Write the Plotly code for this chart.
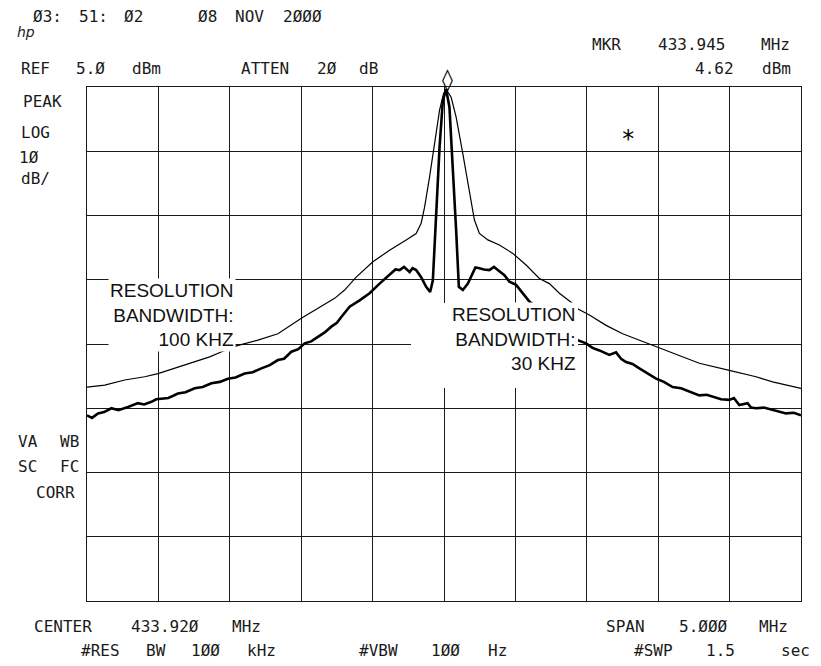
""" HP spectrum analyzer screen: 433.92 MHz carrier at two resolution bandwidths """

import re

import plotly.graph_objects as go

# instrument settings

center_mhz = 433.920
span_mhz = 5.0
ref_dbm = 5.0
db_per_div = 10
mkr_mhz = 433.945
mkr_dbm = 4.62

# thin trace, resolution bandwidth 100 kHz

rbw100_mhz = [431.420, 431.544, 431.684, 431.824, 431.917, 432.034, 432.174, 432.279,
              432.363, 432.466, 432.617, 432.757, 432.921, 433.037, 433.154, 433.224,
              433.305, 433.422, 433.539, 433.655, 433.725, 433.760, 433.784, 433.819,
              433.854, 433.889, 433.917, 433.935, 433.970, 434.005, 434.052, 434.098,
              434.133, 434.168, 434.227, 434.308, 434.402, 434.495, 434.588, 434.658,
              434.728, 434.821, 434.856, 434.938, 435.055, 435.171, 435.288, 435.416,
              435.568, 435.708, 435.918, 436.105, 436.221, 436.315, 436.420]
rbw100_dbm = [-41.7, -41.4, -40.6, -40.1, -39.6, -38.8, -37.8, -37.0,
              -36.2, -35.3, -34.4, -33.4, -31.0, -29.5, -27.9, -26.6,
              -24.6, -22.2, -20.4, -18.8, -17.8, -16.2, -13.7, -9.0,
              -3.8, 1.4, 4.0, 4.62, 3.4, 0.3, -5.4, -11.1,
              -15.7, -17.8, -18.8, -19.6, -20.9, -22.7, -24.8, -25.6,
              -27.1, -28.7, -29.5, -30.5, -32.1, -33.4, -34.4, -35.4,
              -36.7, -38.0, -39.1, -40.1, -40.9, -41.4, -41.9]

# thick trace, resolution bandwidth 30 kHz

rbw30_mhz = [431.420, 431.455, 431.497, 431.540, 431.591, 431.640, 431.707, 431.740,
             431.777, 431.820, 431.871, 431.905, 431.941, 431.990, 432.057, 432.110,
             432.174, 432.230, 432.291, 432.350, 432.407, 432.460, 432.524, 432.580,
             432.641, 432.700, 432.757, 432.800, 432.851, 432.900, 432.944, 432.990,
             433.037, 433.085, 433.131, 433.170, 433.201, 433.259, 433.329, 433.399,
             433.469, 433.539, 433.580, 433.609, 433.640, 433.679, 433.700, 433.725,
             433.760, 433.795, 433.823, 433.842, 433.865, 433.889, 433.912, 433.935,
             433.958, 433.982, 434.005, 434.024, 434.052, 434.087, 434.122, 434.140,
             434.168, 434.200, 434.238, 434.270, 434.297, 434.343, 434.378, 434.425,
             434.450, 434.472, 434.518, 434.623, 434.693, 434.763, 434.856, 434.915,
             434.960, 435.008, 435.078, 435.125, 435.160, 435.195, 435.240, 435.288,
             435.350, 435.405, 435.460, 435.521, 435.580, 435.638, 435.708, 435.760,
             435.801, 435.860, 435.918, 435.950, 435.988, 436.046, 436.070, 436.105,
             436.160, 436.221, 436.270, 436.315, 436.370, 436.420]
rbw30_dbm = [-46.1, -46.5, -45.8, -45.6, -45.0, -45.3, -44.8, -44.5,
             -44.2, -44.4, -44.0, -43.6, -43.5, -43.4, -42.7, -42.5,
             -41.9, -41.7, -41.1, -40.9, -40.4, -40.2, -39.6, -39.4,
             -38.8, -38.3, -37.5, -37.3, -36.2, -35.8, -34.9, -34.6,
             -33.9, -33.2, -32.3, -31.7, -30.8, -29.2, -28.2, -27.1,
             -25.6, -24.3, -23.4, -23.5, -23.0, -23.8, -23.2, -23.5,
             -24.6, -26.1, -26.9, -25.1, -14.7, -4.3, 2.9, 4.62,
             1.9, -7.0, -17.3, -26.1, -26.6, -25.6, -23.8, -23.1,
             -23.2, -23.4, -23.5, -23.0, -23.5, -24.3, -25.3, -25.8,
             -26.5, -27.1, -28.4, -30.2, -31.3, -32.8, -34.4, -34.9,
             -35.6, -36.0, -36.7, -36.3, -37.3, -37.8, -38.1, -38.8,
             -39.6, -40.4, -40.9, -41.7, -41.9, -42.4, -43.0, -42.9,
             -43.2, -43.6, -43.7, -43.4, -44.5, -44.2, -44.9, -45.0,
             -44.9, -45.3, -45.6, -45.8, -45.7, -46.1]

# screen annotations: (text, x px, y px, anchor, char pitch)

screen_text = [
    ("Ø3: 51: Ø2", 30, 16, "left", 11.5),
    ("Ø8 NOV 2ØØØ", 196, 16, "left", 11.8),
    ("MKR 433.945 MHz", 797, 44, "right", 14.1),
    ("REF 5.Ø dBm", 15, 69, "left", 13.8),
    ("ATTEN 2Ø dB", 230, 69, "left", 13.8),
    ("4.62 dBm", 797, 69, "right", 13.8),
    ("PEAK", 15, 101, "left", 13.8),
    ("LOG", 15, 132, "left", 13.8),
    ("1Ø", 15, 157, "left", 13.8),
    ("dB/", 15, 178, "left", 13.8),
    ("VA WB", 83, 441, "right", 13.8),
    ("SC FC", 83, 466, "right", 13.8),
    ("CORR", 83, 492, "right", 13.8),
    ("CENTER 433.92Ø MHz", 22, 626, "left", 13.6),
    ("SPAN 5.ØØØ MHz", 795, 626, "right", 14.1),
    ("#RES BW 1ØØ kHz", 72, 650, "left", 14.0),
    ("#VBW 1ØØ Hz", 348, 650, "left", 15.0),
    ("#SWP 1.5  sec", 818, 650, "right", 15.0),
]

# layout helpers (page body adds an 8 px margin around the figure)

OFF = 8
W, H = 821 - OFF, 666 - OFF
L, T, PW, PH = 87, 87, 714, 514

def px(x):
    """ screen pixel column to paper x """
    return (x - L) / PW

def py(y):
    """ screen pixel row to paper y """
    return 1 - (y - T) / PH

mono = dict(family="DejaVu Sans Mono", size=16, color="#1a1a1a")
label_font = dict(family="Liberation Sans, Arial, sans-serif", size=19, color="#111")

fig = go.Figure()

fig.add_trace(go.Scatter(x=rbw100_mhz, y=rbw100_dbm, mode="lines",
                         line=dict(color="black", width=1.2), name="RBW 100 kHz"))
fig.add_trace(go.Scatter(x=rbw30_mhz, y=rbw30_dbm, mode="lines",
                         line=dict(color="black", width=2.6), name="RBW 30 kHz"))

# blank area where the 30 kHz label was pasted over the screen
fig.add_shape(type="rect", xref="paper", yref="paper",
              x0=px(411), x1=px(578), y0=py(388), y1=py(303),
              fillcolor="white", line_width=0, layer="above")

annotations = []
for text, x, y, anchor, pitch in screen_text:
    x0 = x - len(text) * pitch if anchor == "right" else x
    # fixed pitch screen font: centre every word on its own character cells
    for m in re.finditer(r"\S+", text):
        xc = x0 + (m.start() + len(m.group()) / 2) * pitch
        annotations.append(dict(text=m.group(), x=px(xc), y=py(y), xref="paper", yref="paper",
                                xanchor="center", yanchor="middle", showarrow=False, font=mono))

# marker diamond standing on the peak
annotations.append(dict(text="◊", x=mkr_mhz, y=mkr_dbm, xref="x", yref="y",
                        xanchor="center", yanchor="bottom", yshift=-6, showarrow=False,
                        font=dict(family="DejaVu Sans", size=22, color="black")))

annotations.append(dict(text="<i>hp</i>", x=px(26), y=py(32), xref="paper", yref="paper",
                        xanchor="center", yanchor="middle", showarrow=False,
                        font=dict(family="DejaVu Sans", size=14, color="#1a1a1a")))
annotations.append(dict(text="*", x=px(628), y=py(139), xref="paper", yref="paper",
                        xanchor="center", yanchor="middle", showarrow=False,
                        font=dict(family="DejaVu Sans Mono", size=24, color="black")))

annotations.append(dict(text="RESOLUTION<br>BANDWIDTH:<br>100 KHZ", x=px(236), y=py(315),
                        xref="paper", yref="paper", xanchor="right", yanchor="middle",
                        align="right", showarrow=False, bgcolor="white", font=label_font))
annotations.append(dict(text="RESOLUTION<br>BANDWIDTH:<br>30 KHZ", x=px(578), y=py(339),
                        xref="paper", yref="paper", xanchor="right", yanchor="middle",
                        align="right", showarrow=False, bgcolor="white", font=label_font))

fig.update_layout(
    width=W, height=H, autosize=False,
    margin=dict(l=L - OFF, r=W - (L - OFF) - PW, t=T - OFF, b=H - (T - OFF) - PH),
    plot_bgcolor="white", paper_bgcolor="white",
    showlegend=False,
    annotations=annotations,
)

fig.update_xaxes(
    range=[center_mhz - span_mhz / 2, center_mhz + span_mhz / 2],
    tick0=center_mhz, dtick=span_mhz / 10,
    showticklabels=False, ticks="", zeroline=False,
    showgrid=True, gridcolor="#1a1a1a", gridwidth=1,
    showline=True, mirror=True, linecolor="#1a1a1a", linewidth=1.2,
)
fig.update_yaxes(
    range=[ref_dbm - 8 * db_per_div, ref_dbm],
    tick0=ref_dbm, dtick=db_per_div,
    showticklabels=False, ticks="", zeroline=False,
    showgrid=True, gridcolor="#1a1a1a", gridwidth=1,
    showline=True, mirror=True, linecolor="#1a1a1a", linewidth=1.2,
)

fig.write_html("out.html")
